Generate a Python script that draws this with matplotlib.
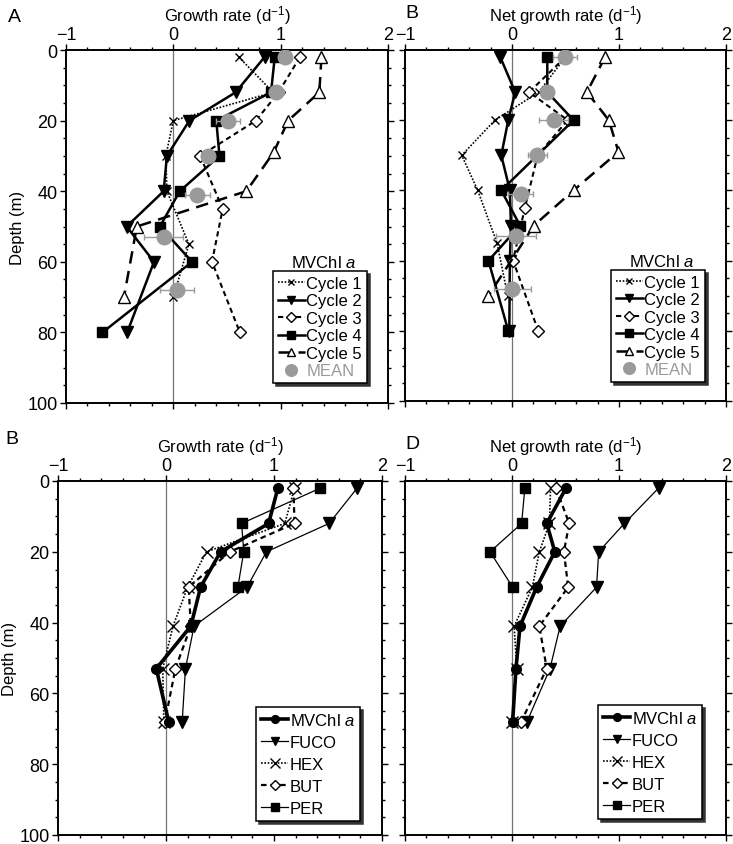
import numpy as np
import matplotlib
matplotlib.use("Agg")
import matplotlib.pyplot as plt
from matplotlib.ticker import MultipleLocator

plt.rcParams['font.family'] = ['Liberation Sans', 'DejaVu Sans']
plt.rcParams['mathtext.fontset'] = 'custom'
plt.rcParams['mathtext.rm'] = 'Liberation Sans'
plt.rcParams['mathtext.it'] = 'Liberation Sans:italic'

# --- top panels: MVChl a per cycle (growth rate / net growth rate, d-1) ---
c1_depth = [2, 12, 20, 30, 40, 55, 70]
c1_growth = [0.61, 0.93, 0.0, -0.07, -0.06, 0.145, 0.0]
c1_net = [0.5, 0.25, -0.16, -0.47, -0.32, -0.14, -0.04]

c2_depth = [2, 12, 20, 30, 40, 50, 60, 80]
c2_growth = [0.85, 0.58, 0.15, -0.06, -0.09, -0.435, -0.18, -0.43]
c2_net = [-0.11, 0.03, -0.035, -0.1, -0.02, -0.01, -0.02, -0.025]

c3_depth = [2, 12, 20, 30, 45, 60, 80]
c3_growth = [1.18, 0.98, 0.77, 0.25, 0.46, 0.36, 0.62]
c3_net = [0.5, 0.16, 0.52, 0.24, 0.12, 0.01, 0.245]

c4_depth = [2, 12, 20, 40, 50, 60, 80]
c4_growth = [0.945, 0.91, 0.40, 0.06, -0.125, 0.175, -0.66]
c4_net = [0.33, 0.33, 0.575, -0.1, 0.075, -0.22, -0.035]
c4_depth_a = [2, 12, 20, 30, 40, 50, 60, 80]
c4_growth_a = [0.945, 0.91, 0.40, 0.43, 0.06, -0.125, 0.175, -0.66]

c5_depth = [2, 12, 20, 29, 40, 50, 70]
c5_growth = [1.38, 1.36, 1.07, 0.935, 0.68, -0.34, -0.46]
c5_net = [0.87, 0.70, 0.905, 0.995, 0.575, 0.205, -0.22]

mean_depth = [2, 12, 20, 30, 41, 53, 68]
mean_growth = [1.04, 0.96, 0.51, 0.32, 0.225, -0.09, 0.035]
mean_growth_err = [0.05, 0.07, 0.11, 0.05, 0.115, 0.18, 0.16]
mean_net = [0.495, 0.325, 0.39, 0.235, 0.08, 0.037, 0.003]
mean_net_err = [0.11, 0.05, 0.135, 0.09, 0.12, 0.19, 0.17]

# --- bottom panels: pigments ---
pig_depth = [2, 12, 20, 30, 41, 53, 68]
mvchl_growth = [1.036, 0.95, 0.505, 0.32, 0.23, -0.09, 0.025]
fuco_growth = [1.77, 1.51, 0.93, 0.75, 0.26, 0.18, 0.15]
hex_growth = [1.19, 1.10, 0.375, 0.20, 0.065, -0.03, -0.02]
but_growth = [1.18, 1.19, 0.59, 0.21, 0.23, 0.087, -0.01]
per_depth = [2, 12, 20, 30]
per_growth = [1.43, 0.70, 0.72, 0.665]

mvchl_net = [0.505, 0.325, 0.40, 0.23, 0.075, 0.037, 0.006]
fuco_net = [1.37, 1.05, 0.81, 0.79, 0.45, 0.355, 0.14]
hex_net = [0.36, 0.35, 0.255, 0.19, 0.02, 0.045, -0.003]
but_net = [0.41, 0.535, 0.485, 0.525, 0.255, 0.325, 0.085]
per_net = [0.12, 0.09, -0.205, 0.006]

GREY = '#9a9a9a'
FS = 12


def style_axis(ax, xlabel, ylabel=True):
    ax.set_xlim(-1, 2)
    ax.set_ylim(100, 0)
    ax.axvline(0, color='0.45', lw=0.9, zorder=0)
    ax.xaxis.set_major_locator(MultipleLocator(1))
    ax.xaxis.set_minor_locator(MultipleLocator(0.2))
    ax.yaxis.set_major_locator(MultipleLocator(20))
    ax.yaxis.set_minor_locator(MultipleLocator(5))
    ax.tick_params(which='both', direction='out', top=True, bottom=True,
                   left=True, right=True, labeltop=True, labelbottom=False,
                   labelleft=ylabel, labelright=False, width=1, labelsize=13)
    ax.tick_params(which='major', length=4)
    ax.tick_params(which='minor', length=2.5)
    ax.tick_params(axis='x', pad=1)
    ax.tick_params(axis='y', pad=2)
    for s in ax.spines.values():
        s.set_linewidth(1.4)
    ax.xaxis.set_label_position('top')
    ax.set_xlabel(xlabel, fontsize=FS, labelpad=4)
    if ylabel:
        ax.set_ylabel('Depth (m)', fontsize=FS, labelpad=2)


def add_legend(ax, anchor, spacing, title=None, title_xy=None, mean=False):
    leg = ax.legend(loc='upper right', bbox_to_anchor=anchor, fontsize=12,
                    handlelength=1.6, handletextpad=0.1, borderpad=0.3,
                    labelspacing=spacing, borderaxespad=0, fancybox=False,
                    edgecolor='black', framealpha=1, markerscale=0.8,
                    shadow={'color': '0.2', 'alpha': 1.0})
    leg.get_frame().set_linewidth(1.1)
    if mean:
        leg.get_texts()[-1].set_color(GREY)
    if title:
        ax.text(title_xy[0], title_xy[1], title, transform=ax.transAxes,
                ha='center', va='center', fontsize=12)


def plot_cycles(ax, c4d, c4v, v1, v2, v3, v5, mv, err):
    ax.plot(v1, c1_depth, color='black', ls=(0, (1, 1)), lw=1.2, marker='x',
            ms=6, mew=1, label='Cycle 1')
    ax.plot(v2, c2_depth, color='black', lw=1.8, marker='v', ms=8,
            label='Cycle 2')
    ax.plot(v3, c3_depth, color='black', ls=(0, (2.5, 1.8)), lw=1.5,
            marker='D', ms=6, mfc='white', mew=1, label='Cycle 3')
    ax.plot(c4v, c4d, color='black', lw=1.8, marker='s', ms=7.5,
            label='Cycle 4')
    ax.plot(v5, c5_depth, color='black', ls=(0, (5, 3)), lw=1.8, marker='^',
            ms=8, mfc='white', mew=1, label='Cycle 5')
    ax.errorbar(mv, mean_depth, xerr=err, fmt='none', ecolor=GREY,
                elinewidth=1, capsize=2.5, zorder=5)
    ax.plot(mv, mean_depth, ls='none', marker='o', color=GREY, ms=10.5,
            label='MEAN', zorder=6)


def plot_pigments(ax, mv, fu, hx, bu, pe):
    ax.plot(mv, pig_depth, color='black', lw=2.6, marker='o', ms=7,
            label='MVChl $\\it{a}$', zorder=4)
    ax.plot(fu, pig_depth, color='black', lw=0.9, marker='v', ms=8,
            label='FUCO')
    ax.plot(hx, pig_depth, color='black', ls=(0, (1, 1)), lw=1.2, marker='x',
            ms=9, mew=1, label='HEX')
    ax.plot(bu, pig_depth, color='black', ls=(0, (2.5, 1.8)), lw=1.6,
            marker='D', ms=6, mfc='white', mew=1, label='BUT')
    ax.plot(pe, per_depth, color='black', lw=0.9, marker='s', ms=7.5,
            label='PER')


W, H = 733, 845
fig = plt.figure(figsize=(W / 100, H / 100), dpi=100)


def px_axes(x0, x1, y0, y1):
    return fig.add_axes([x0 / W, 1 - y1 / H, (x1 - x0) / W, (y1 - y0) / H])


axA = px_axes(66, 388, 51, 404)
axB = px_axes(405, 726, 51, 402)
axC = px_axes(58, 382, 482, 836)
axD = px_axes(405, 726, 482, 836)

plot_cycles(axA, c4_depth_a, c4_growth_a, c1_growth, c2_growth, c3_growth,
            c5_growth, mean_growth, mean_growth_err)
style_axis(axA, 'Growth rate (d$^{-1}$)')
add_legend(axA, (0.935, 0.374), 0.15, 'MVChl $\\it{a}$', (0.80, 0.40),
           mean=True)

plot_cycles(axB, c4_depth, c4_net, c1_net, c2_net, c3_net, c5_net,
            mean_net, mean_net_err)
style_axis(axB, 'Net growth rate (d$^{-1}$)', ylabel=False)
add_legend(axB, (0.935, 0.374), 0.15, 'MVChl $\\it{a}$', (0.80, 0.40),
           mean=True)

plot_pigments(axC, mvchl_growth, fuco_growth, hex_growth, but_growth,
              per_growth)
style_axis(axC, 'Growth rate (d$^{-1}$)')
add_legend(axC, (0.932, 0.362), 0.42)

plot_pigments(axD, mvchl_net, fuco_net, hex_net, but_net, per_net)
style_axis(axD, 'Net growth rate (d$^{-1}$)', ylabel=False)
add_legend(axD, (0.925, 0.368), 0.42)

for x, y, s in [(14, 18, 'A'), (412, 14, 'B'), (12, 440, 'B'), (412, 445, 'D')]:
    fig.text(x / W, 1 - y / H, s, fontsize=14, ha='center', va='center')

fig.savefig('out.png', dpi=100)
